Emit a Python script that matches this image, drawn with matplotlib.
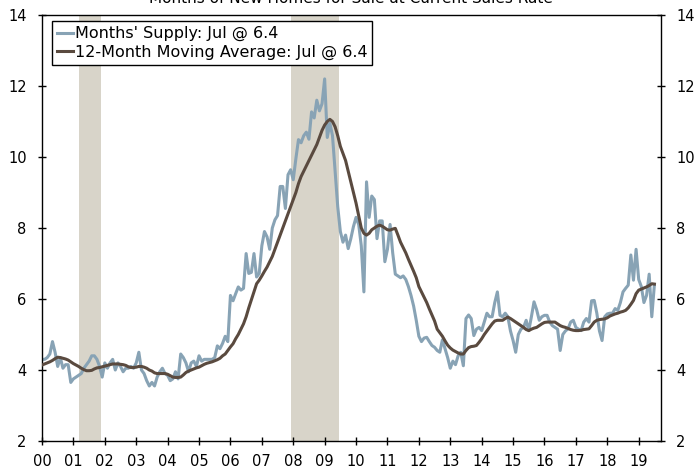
import matplotlib
matplotlib.use("Agg")
import matplotlib.pyplot as plt
import numpy as np

# Months' supply of new homes, monthly Jan 2000 - Jul 2019
supply = [
    4.3, 4.3, 4.35, 4.45, 4.8, 4.5, 4.1, 4.35, 4.05, 4.15, 4.15, 3.65,      # 2000
    3.75, 3.8, 3.85, 3.9, 4.05, 4.15, 4.25, 4.4, 4.4, 4.3, 4.1, 3.8,       # 2001
    4.2, 4.05, 4.2, 4.3, 4.0, 4.2, 4.1, 3.95, 4.05, 4.05, 4.1, 4.05,       # 2002
    4.2, 4.5, 4.0, 3.9, 3.7, 3.55, 3.65, 3.55, 3.8, 3.95, 4.05, 3.9,       # 2003
    3.85, 3.7, 3.75, 3.95, 3.75, 4.45, 4.35, 4.2, 3.95, 4.2, 4.25, 4.1,    # 2004
    4.4, 4.25, 4.3, 4.3, 4.3, 4.3, 4.35, 4.68, 4.6, 4.75, 4.95, 4.8,       # 2005
    6.1, 5.95, 6.15, 6.34, 6.25, 6.3, 7.28, 6.72, 6.75, 7.28, 6.62, 6.72,  # 2006
    7.5, 7.9, 7.75, 7.4, 8.0, 8.23, 8.35, 9.17, 9.17, 8.55, 9.5, 9.64,     # 2007
    9.36, 9.95, 10.49, 10.4, 10.6, 10.7, 10.5, 11.27, 11.1, 11.6, 11.3, 11.5,  # 2008
    12.2, 10.55, 10.95, 10.6, 9.6, 8.6, 7.9, 7.6, 7.8, 7.42, 7.7, 8.04,    # 2009
    8.3, 8.1, 7.5, 6.2, 9.3, 8.3, 8.9, 8.8, 7.7, 8.2, 8.2, 7.05,           # 2010
    7.4, 8.1, 7.3, 6.7, 6.65, 6.6, 6.65, 6.55, 6.35, 6.1, 5.8, 5.4,        # 2011
    4.95, 4.8, 4.9, 4.92, 4.8, 4.69, 4.64, 4.55, 4.5, 4.85, 4.6, 4.35,     # 2012
    4.05, 4.25, 4.15, 4.4, 4.5, 4.12, 5.45, 5.55, 5.45, 4.97, 5.15, 5.2,   # 2013
    5.11, 5.35, 5.6, 5.5, 5.5, 5.9, 6.2, 5.54, 5.5, 5.6, 5.5, 5.1,         # 2014
    4.83, 4.5, 5.0, 5.15, 5.2, 5.4, 5.11, 5.5, 5.92, 5.7, 5.4, 5.5,        # 2015
    5.54, 5.54, 5.35, 5.25, 5.2, 5.15, 4.55, 5.0, 5.1, 5.16, 5.35, 5.4,    # 2016
    5.2, 5.15, 5.11, 5.35, 5.45, 5.35, 5.95, 5.96, 5.6, 5.1, 4.83, 5.5,    # 2017
    5.58, 5.6, 5.6, 5.73, 5.68, 5.9, 6.2, 6.3, 6.39, 7.24, 6.53, 7.4,      # 2018
    6.55, 6.35, 5.9, 6.1, 6.7, 5.5, 6.4,                                   # 2019
]

# 12-month moving average, same months
moving_avg = [
    4.14, 4.17, 4.2, 4.23, 4.27, 4.32, 4.36, 4.35, 4.33, 4.31, 4.28, 4.23,
    4.18, 4.14, 4.1, 4.05, 4.01, 3.98, 3.98, 3.99, 4.03, 4.06, 4.07, 4.09,
    4.11, 4.13, 4.15, 4.17, 4.17, 4.17, 4.16, 4.15, 4.13, 4.09, 4.07, 4.07,
    4.08, 4.1, 4.1, 4.08, 4.05, 4.0, 3.97, 3.92, 3.9, 3.9, 3.9, 3.9,
    3.88, 3.84, 3.8, 3.79, 3.79, 3.8, 3.86, 3.93, 3.97, 4.0, 4.03, 4.06,
    4.08, 4.12, 4.16, 4.19, 4.21, 4.23, 4.26, 4.29, 4.33, 4.4, 4.45, 4.55,
    4.65, 4.74, 4.88, 5.0, 5.15, 5.3, 5.5, 5.75, 5.98, 6.2, 6.43, 6.53,
    6.65, 6.78, 6.9, 7.05, 7.2, 7.4, 7.6, 7.8, 8.0, 8.2, 8.4, 8.6,
    8.8, 9.0, 9.25, 9.45, 9.6, 9.75, 9.9, 10.05, 10.2, 10.35, 10.55, 10.75,
    10.9, 11.0, 11.06, 11.0, 10.85, 10.6, 10.3, 10.1, 9.9, 9.6, 9.3, 9.0,
    8.7, 8.35, 8.0, 7.85, 7.8, 7.85, 7.95, 8.0, 8.05, 8.08, 8.05, 8.0,
    7.95, 7.94, 7.97, 7.99, 7.8, 7.6, 7.45, 7.3, 7.12, 6.95, 6.78, 6.6,
    6.35, 6.2, 6.05, 5.9, 5.72, 5.55, 5.38, 5.15, 5.05, 4.95, 4.82, 4.7,
    4.62, 4.56, 4.52, 4.48, 4.45, 4.45, 4.55, 4.63, 4.66, 4.67, 4.69, 4.78,
    4.88, 5.0, 5.1, 5.2, 5.3, 5.38, 5.4, 5.4, 5.4, 5.45, 5.49, 5.45,
    5.4, 5.35, 5.3, 5.25, 5.2, 5.14, 5.11, 5.15, 5.18, 5.2, 5.25, 5.3,
    5.34, 5.35, 5.35, 5.35, 5.35, 5.3, 5.25, 5.22, 5.2, 5.17, 5.14, 5.12,
    5.11, 5.11, 5.12, 5.14, 5.15, 5.16, 5.25, 5.35, 5.4, 5.42, 5.43, 5.44,
    5.47, 5.52, 5.55, 5.58, 5.6, 5.63, 5.65, 5.68, 5.75, 5.85, 5.96, 6.15,
    6.25, 6.28, 6.31, 6.34, 6.38, 6.43, 6.42,
]

recessions = [(2001.17, 2001.87), (2007.92, 2009.45)]
year_ticks = list(range(2000, 2020))
year_labels = [f"{y % 100:02d}" for y in year_ticks]

dates = 2000 + np.arange(len(supply)) / 12.0

plt.rcParams["font.family"] = ["DejaVu Sans"]
plt.rcParams["font.size"] = 10.5

fig = plt.figure(figsize=(6.94, 4.67), dpi=100)
ax = fig.add_axes([42 / 694, 1 - 441 / 467, 619 / 694, 426 / 467])

for x0, x1 in recessions:
    ax.axvspan(x0, x1, color="#d8d4c9", lw=0, zorder=0)

ax.plot(dates, supply, color="#88a3b5", lw=2.2, label="Months' Supply: Jul @ 6.4", zorder=2)
ax.plot(dates, moving_avg, color="#5a4a3f", lw=2.2, label="12-Month Moving Average: Jul @ 6.4", zorder=3)

ax.set_xlim(2000, 2019.71)
ax.set_ylim(2, 14)
ax.set_yticks(range(2, 15, 2))
ax.set_xticks(year_ticks)
ax.set_xticklabels(year_labels)

for s in ax.spines.values():
    s.set_color("black")
    s.set_linewidth(1.0)

ax.tick_params(axis="y", which="both", direction="inout", length=6, width=1,
               left=True, right=True, labelleft=True, labelright=True, pad=8)
ax.tick_params(axis="x", direction="inout", length=6, width=1, pad=6)

leg = ax.legend(loc="upper left", bbox_to_anchor=(0.016, 0.985), frameon=True,
                fancybox=False, edgecolor="black", framealpha=1, fontsize=11.5,
                handlelength=1.0, handletextpad=0.15, borderpad=0.3,
                labelspacing=0.2, borderaxespad=0)
leg.get_frame().set_linewidth(1.0)

fig.text(0.505, 1 - 3 / 467, "Months of New Homes for Sale at Current Sales Rate",
         ha="center", va="baseline", fontsize=11)

fig.savefig("out.png", dpi=100)
